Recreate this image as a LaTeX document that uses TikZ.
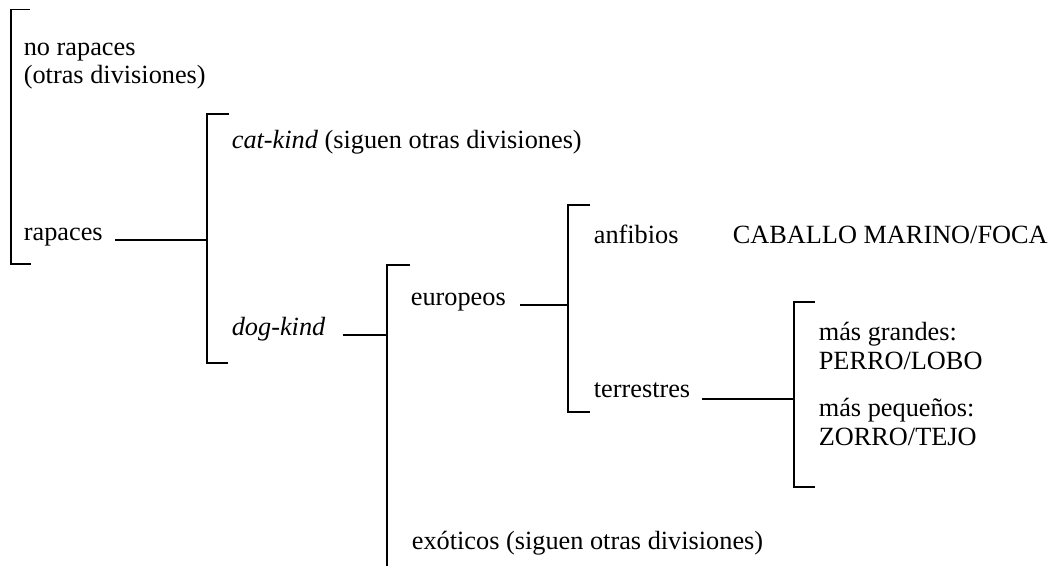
\documentclass[tikz,border=0pt]{standalone}
\usepackage{fontspec}
\setmainfont{Liberation Serif}
\usepackage{tikz}

\begin{document}
\begin{tikzpicture}[x=0.025cm, y=-0.025cm, line width=1.2pt,
  lab/.style={anchor=base west, inner sep=0pt, font=\fontsize{18.7}{22}\selectfont}]
\useasboundingbox (0,0) rectangle (1063,566);
% first bracket
\coordinate (b1t) at (11,9);
\coordinate (b1b) at (11,264);
\draw[line width=0.6pt] (b1t) -- +(19,0);
\draw (b1t) -- (b1b) -- +(20,0);
\node[lab] (norap1) at (23,55) {no rapaces};
\node[lab] (norap2) at (23,83) {(otras divisiones)};
\node[lab] (rap) at (23,240) {rapaces};
% second bracket
\coordinate (b2t) at (207,114);
\coordinate (b2b) at (207,363);
\coordinate (b2j) at (207,240);
\coordinate (l1) at (115,240);
\draw ([xshift=22*0.025cm]b2t) -- (b2t) -- (b2b) -- +(21,0);
\draw (l1) -- (b2j);
\node[lab] (cat) at (231,148) {\textit{cat-kind} (siguen otras divisiones)};
\node[lab] (dog) at (231,335) {\textit{dog-kind}};
% third bracket
\coordinate (b3t) at (387,265);
\coordinate (b3b) at (387,566);
\coordinate (b3j) at (387,335);
\coordinate (l2) at (343,335);
\draw ([xshift=23*0.025cm]b3t) -- (b3t) -- (b3b);
\draw (l2) -- (b3j);
\node[lab] (eur) at (410,305) {europeos};
\node[lab] (exo) at (411,549) {exóticos (siguen otras divisiones)};
% fourth bracket
\coordinate (b4t) at (568,205);
\coordinate (b4b) at (568,412);
\coordinate (b4j) at (568,305);
\coordinate (l3) at (520,305);
\draw ([xshift=22*0.025cm]b4t) -- (b4t) -- (b4b) -- +(22,0);
\draw (l3) -- (b4j);
\node[lab] (anf) at (593,243) {anfibios};
\node[lab] (cab) at (732,243) {CABALLO MARINO/FOCA};
\node[lab] (ter) at (593,397) {terrestres};
% fifth bracket
\coordinate (b5t) at (794,302);
\coordinate (b5b) at (794,487);
\coordinate (b5j) at (794,399);
\coordinate (l4) at (702,399);
\draw ([xshift=21*0.025cm]b5t) -- (b5t) -- (b5b) -- +(21,0);
\draw (l4) -- (b5j);
\node[lab] (gra) at (818,340) {más grandes:};
\node[lab] (per) at (818,369) {PERRO/LOBO};
\node[lab] (peq) at (818,416) {más pequeños:};
\node[lab] (zor) at (818,445) {ZORRO/TEJO};
\end{tikzpicture}
\end{document}
